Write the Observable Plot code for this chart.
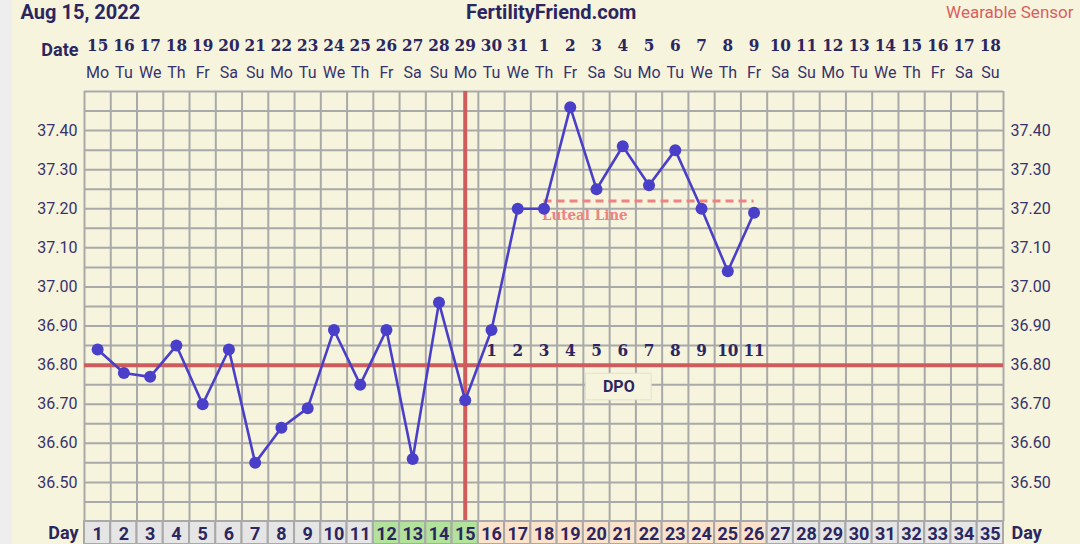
<!DOCTYPE html>
<html><head><meta charset="utf-8">
<script src="https://cdn.jsdelivr.net/npm/d3@7"></script>
<script src="https://cdn.jsdelivr.net/npm/@observablehq/plot@0.6"></script>
<style>
html,body{margin:0;padding:0;background:#f6f4dd;}
body{width:1080px;height:544px;overflow:hidden;position:relative;font-family:Roboto,sans-serif;}
#strip{position:absolute;left:0;top:0;width:12px;height:544px;background:#eeeeee;}
#chart{position:absolute;left:0;top:0;}
#chart svg{display:block;background:transparent;}
</style></head><body><div id="strip"></div><div id="chart"></div>
<script>
// ---- data ----
const cycleDays = [1,2,3,4,5,6,7,8,9,10,11,12,13,14,15,16,17,18,19,20,21,22,23,24,25,26,27,28,29,30,31,32,33,34,35];
const dateLabels = [15,16,17,18,19,20,21,22,23,24,25,26,27,28,29,30,31,1,2,3,4,5,6,7,8,9,10,11,12,13,14,15,16,17,18];
const weekdays = ["Mo","Tu","We","Th","Fr","Sa","Su","Mo","Tu","We","Th","Fr","Sa","Su","Mo","Tu","We","Th","Fr","Sa","Su","Mo","Tu","We","Th","Fr","Sa","Su","Mo","Tu","We","Th","Fr","Sa","Su"];
const tempDays = [1,2,3,4,5,6,7,8,9,10,11,12,13,14,15,16,17,18,19,20,21,22,23,24,25,26];
const temps = [36.84,36.78,36.77,36.85,36.70,36.84,36.55,36.64,36.69,36.89,36.75,36.89,36.56,36.96,36.71,36.89,37.20,37.20,37.46,37.25,37.36,37.26,37.35,37.20,37.04,37.19];
const dpoDays = [16,17,18,19,20,21,22,23,24,25,26];
const dpoLabels = [1,2,3,4,5,6,7,8,9,10,11];
const fertileDays = [12,13,14,15];
const lutealDays = [16,17,18,19,20,21,22,23,24,25,26];
const coverline = 36.80;
const ovulationDay = 15;
const lutealLine = {start: 18, end: 26, value: 37.22};
const yTicks = [36.50,36.60,36.70,36.80,36.90,37.00,37.10,37.20,37.30,37.40];
const yDomain = [36.40, 37.50];

// ---- styles ----
const navy = "#2b2660";
const labelNavy = "#37326c";
const purple = "#4a3fc8";
const red = "#cf5c5c";
const salmon = "#ef8181";
const gridC = "#a9a9a9";
const cream = "#f6f4dd";
const W = 1080, ML = 84, MR = 77;
const serif = "'DejaVu Serif Condensed','DejaVu Serif',serif";

const tempData = tempDays.map((d,i)=>({day:d, t:temps[i]}));
const dayData = cycleDays.map((d,i)=>({day:d, date:dateLabels[i], wd:weekdays[i]}));
const gridYs = d3.range(36.40, 37.5001, 0.05);
const gridXs = d3.range(0.5, 35.51, 1);
const dpoMid = (dpoDays[0] + dpoDays[dpoDays.length-1]) / 2;

const main = Plot.plot({
  width: W, height: 521,
  marginLeft: ML, marginRight: MR, marginTop: 91, marginBottom: 0,
  style: {background: "transparent", overflow: "visible"},
  x: {domain: [0.5, 35.5], axis: null},
  y: {domain: yDomain, axis: null},
  marks: [
    Plot.ruleY(gridYs, {stroke: gridC, strokeWidth: 2}),
    Plot.ruleX(gridXs, {stroke: gridC, strokeWidth: 2}),
    Plot.ruleY([lutealLine], {x1: "start", x2: "end", y: "value", stroke: salmon, strokeWidth: 3, strokeDasharray: "8,5"}),
    Plot.text([lutealLine], {x: "start", y: "value", text: d=>"Luteal Line", textAnchor: "start", dy: 14, dx: -2,
      fill: salmon, fontFamily: serif, fontWeight: "bold", fontSize: 15}),
    // DPO label box
    Plot.rect([{x1: dpoMid - 1.4, x2: dpoMid + 1.1, y1: coverline - 0.022, y2: coverline - 0.09}],
      {x1:"x1", x2:"x2", y1:"y1", y2:"y2", fill: cream, stroke: "#e4e2cc", strokeWidth: 1}),
    Plot.text(["DPO"], {x: dpoMid - 0.15, y: coverline - 0.055, text: d=>d, fill: navy, fontSize: 16, fontWeight: "bold", fontFamily: "Roboto"}),
    Plot.ruleY([coverline], {x1: 0.5, x2: 35.5, stroke: red, strokeWidth: 4}),
    Plot.ruleX([ovulationDay], {y1: yDomain[0], y2: yDomain[1], stroke: red, strokeWidth: 4}),
    Plot.line(tempData, {x: "day", y: "t", stroke: purple, strokeWidth: 2.6}),
    Plot.dot(tempData, {x: "day", y: "t", r: 6, fill: purple}),
    Plot.text(dpoDays, {x: d=>d, y: ()=>coverline, text: (d,i)=>String(dpoLabels[i]), dy: -15,
      fill: navy, fontFamily: serif, fontWeight: "bold", fontSize: 17}),
    // y labels
    Plot.text(yTicks, {y: d=>d, frameAnchor: "left", dx: -7, textAnchor: "end", text: d=>d.toFixed(2),
      fill: labelNavy, fontSize: 16, fontFamily: "Roboto"}),
    Plot.text(yTicks, {y: d=>d, frameAnchor: "right", dx: 7, textAnchor: "start", text: d=>d.toFixed(2),
      fill: labelNavy, fontSize: 16, fontFamily: "Roboto"}),
    // header
    Plot.text(["Aug 15, 2022"], {frameAnchor: "top-left", lineAnchor: "middle", dx: -64, dy: -79, textAnchor: "start", text: d=>d,
      fill: navy, fontSize: 20, fontWeight: "bold", fontFamily: "Roboto", letterSpacing: -0.4}),
    Plot.text(["FertilityFriend.com"], {x: 18.27, frameAnchor: "top", lineAnchor: "middle", dy: -79, text: d=>d,
      fill: navy, fontSize: 20, fontWeight: "bold", fontFamily: "Roboto", letterSpacing: -0.4}),
    Plot.text(["Wearable Sensor"], {frameAnchor: "top-right", lineAnchor: "middle", dx: 70, dy: -79, textAnchor: "end", text: d=>d,
      fill: "#d9605f", fontSize: 17, fontFamily: "Roboto"}),
    Plot.text(["Date"], {frameAnchor: "top-left", lineAnchor: "middle", dx: -6, dy: -41, textAnchor: "end", text: d=>d,
      fill: navy, fontSize: 18, fontWeight: "bold", fontFamily: "Roboto", letterSpacing: -0.4}),
    Plot.text(dayData, {x: "day", frameAnchor: "top", lineAnchor: "middle", dy: -46, text: d=>String(d.date),
      fill: navy, fontSize: 17, fontWeight: "bold", fontFamily: serif}),
    Plot.text(dayData, {x: "day", frameAnchor: "top", lineAnchor: "middle", dy: -19, text: "wd",
      fill: labelNavy, fontSize: 16, fontFamily: "Roboto"})
  ]
});

const phase = d => fertileDays.includes(d) ? "#b2e29b" : lutealDays.includes(d) ? "#fbe2cb" : "#e5e5e5";
const dayRow = Plot.plot({
  width: W, height: 23,
  marginLeft: ML, marginRight: MR, marginTop: 0, marginBottom: 0,
  style: {background: "transparent", overflow: "visible"},
  x: {domain: [0.5, 35.5], axis: null},
  marks: [
    Plot.rect(cycleDays, {x1: d=>d-0.5, x2: d=>d+0.5, fill: d=>phase(d), stroke: gridC, strokeWidth: 2}),
    Plot.text(cycleDays, {x: d=>d, frameAnchor: "middle", dy: 1, text: d=>String(d), fill: navy, fontSize: 18, fontWeight: "bold", fontFamily: "Roboto", letterSpacing: -0.6}),
    Plot.text(["Day"], {frameAnchor: "left", dx: -6, textAnchor: "end", text: d=>d, fill: navy, fontSize: 18, fontWeight: "bold", fontFamily: "Roboto", letterSpacing: -0.4}),
    Plot.text(["Day"], {frameAnchor: "right", dx: 8, textAnchor: "start", text: d=>d, fill: navy, fontSize: 18, fontWeight: "bold", fontFamily: "Roboto", letterSpacing: -0.4})
  ]
});
const c = document.getElementById("chart");
c.appendChild(main);
c.appendChild(dayRow);
</script></body></html>
